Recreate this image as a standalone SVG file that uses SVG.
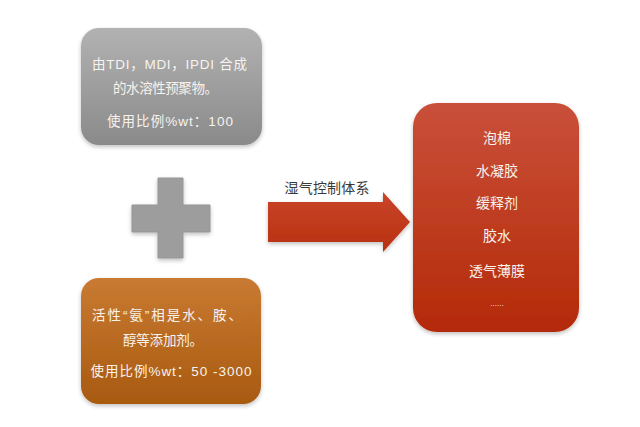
<svg xmlns="http://www.w3.org/2000/svg" width="640" height="427" viewBox="0 0 640 427">
<style>
  .t { font-family: "Liberation Sans", "Noto Sans CJK SC", sans-serif; font-size: 13.5px; fill: #f7f3ee; text-anchor: middle; }
  .r { font-size: 14px; }
  .lbl { font-family: "Liberation Sans", "Noto Sans CJK SC", sans-serif; font-size: 14px; fill: #3a3a3a; text-anchor: middle; }
</style>
<defs>
  <linearGradient id="gGray" x1="0" y1="0" x2="0" y2="1">
    <stop offset="0" stop-color="#b2b2b2"/>
    <stop offset="1" stop-color="#8a8a8a"/>
  </linearGradient>
  <linearGradient id="gOrange" x1="0" y1="0" x2="0" y2="1">
    <stop offset="0" stop-color="#c97a32"/>
    <stop offset="1" stop-color="#a85a10"/>
  </linearGradient>
  <linearGradient id="gRed" x1="0" y1="0" x2="0" y2="1">
    <stop offset="0" stop-color="#c9503a"/>
    <stop offset="1" stop-color="#b42a08"/>
  </linearGradient>
  <linearGradient id="gArrow" x1="0" y1="0" x2="0" y2="1">
    <stop offset="0" stop-color="#c9452a"/>
    <stop offset="1" stop-color="#b8300f"/>
  </linearGradient>
  <filter id="sh" x="-10%" y="-10%" width="120%" height="125%">
    <feGaussianBlur in="SourceAlpha" stdDeviation="2"/>
    <feOffset dy="2" result="b"/>
    <feComponentTransfer><feFuncA type="linear" slope="0.25"/></feComponentTransfer>
    <feMerge><feMergeNode/><feMergeNode in="SourceGraphic"/></feMerge>
  </filter>
</defs>
<rect width="640" height="427" fill="#ffffff"/>

<g id="node-gray">
  <rect x="81" y="28" width="181" height="117" rx="18" fill="url(#gGray)" filter="url(#sh)"/>
  <text class="t" x="169.5" y="69" textLength="155" lengthAdjust="spacing">由TDI，MDI，IPDI 合成</text>
  <text class="t" x="165.5" y="93" textLength="105" lengthAdjust="spacing">的水溶性预聚物。</text>
  <text class="t" x="170" y="126" textLength="126" lengthAdjust="spacing">使用比例%wt：100</text>
</g>

<g id="node-plus">
  <path d="M158,178 H183 V205 H210 V232 H183 V258 H158 V232 H132 V205 H158 Z" fill="#9d9d9d" stroke="#959595" stroke-width="1" stroke-linejoin="round" filter="url(#sh)"/>
</g>

<g id="node-orange">
  <rect x="81" y="278" width="180" height="126" rx="18" fill="url(#gOrange)" filter="url(#sh)"/>
  <text class="t" x="167" y="320" textLength="150" lengthAdjust="spacing">活性“氨”相是水、胺、</text>
  <text class="t" x="163" y="345" textLength="80" lengthAdjust="spacing">醇等添加剂。</text>
  <text class="t" x="171" y="376" textLength="161" lengthAdjust="spacing">使用比例%wt：50 -3000</text>
</g>

<g id="node-red">
  <rect x="413" y="103" width="166" height="229" rx="24" fill="url(#gRed)" filter="url(#sh)"/>
  <text class="t r" x="497" y="143">泡棉</text>
  <text class="t r" x="497" y="176">水凝胶</text>
  <text class="t r" x="497" y="208">缓释剂</text>
  <text class="t r" x="497" y="241">胶水</text>
  <text class="t r" x="497" y="276">透气薄膜</text>
  <text class="t" x="497" y="306" style="font-size:8px">......</text>
</g>

<g id="connectors">
  <path d="M268,202 H383 V192 L410,222 L383,252 V242 H268 Z" fill="url(#gArrow)" filter="url(#sh)"/>
  <text class="lbl" x="327" y="193" textLength="85" lengthAdjust="spacing">湿气控制体系</text>
</g>
</svg>
